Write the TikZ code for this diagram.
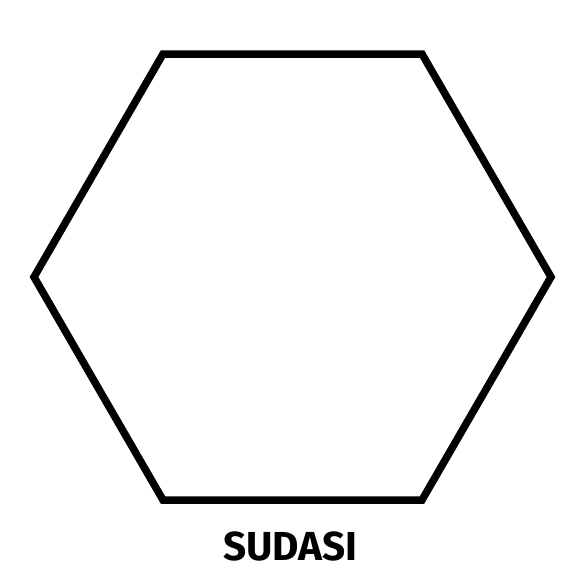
\documentclass[tikz,border=0pt]{standalone}
\usepackage{fontspec}
\setmainfont{Fira Sans}
\usetikzlibrary{positioning}

\begin{document}
\begin{tikzpicture}[
  x=1pt,y=-1pt,
  hexline/.style={draw=black,line width=7.5pt,line join=miter},
  caption/.style={font=\fontsize{40.5}{46}\selectfont\bfseries,inner sep=0pt,anchor=base}
]
\useasboundingbox (0,0) rectangle (580,581);
\coordinate (tl) at (163,54);
\coordinate (tr) at (422,54);
\coordinate (r) at (551,277);
\coordinate (br) at (422,500);
\coordinate (bl) at (163,500);
\coordinate (l) at (34,277);
\draw[hexline] (tl) -- (tr) -- (r) -- (br) -- (bl) -- (l) -- cycle;
\node[caption] (name) at (290.5,560) {SUDASI};
\end{tikzpicture}
\end{document}
